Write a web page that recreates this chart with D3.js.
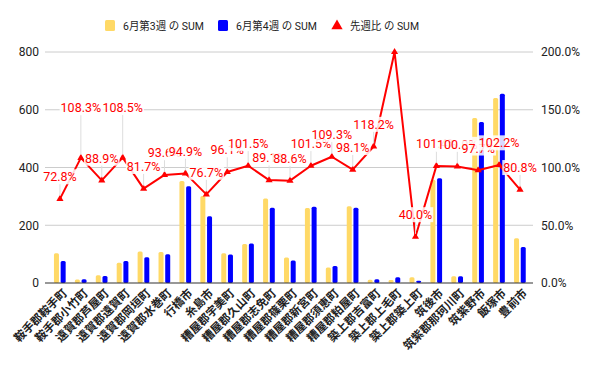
<!DOCTYPE html>
<html>
<head>
<meta charset="utf-8">
<script src="https://cdn.jsdelivr.net/npm/d3@7"></script>
<style>
  body { margin: 0; background: #fff; }
  svg { display: block; }
  text { font-family: Roboto, "Noto Sans CJK JP", sans-serif; }
</style>
</head>
<body>
<div id="chart"></div>
<script>
//////////////////////// data ////////////////////////
const towns = [
  "鞍手郡鞍手町", "鞍手郡小竹町", "遠賀郡芦屋町", "遠賀郡遠賀町", "遠賀郡岡垣町",
  "遠賀郡水巻町", "行橋市", "糸島市", "糟屋郡宇美町", "糟屋郡久山町",
  "糟屋郡志免町", "糟屋郡篠栗町", "糟屋郡新宮町", "糟屋郡須恵町", "糟屋郡粕屋町",
  "築上郡吉富町", "築上郡上毛町", "築上郡築上町", "筑後市", "筑紫郡那珂川町",
  "筑紫野市", "飯塚市", "豊前市"
];
const week3 = [103, 12, 27, 70, 109, 107, 353, 301, 103, 135, 293, 88, 260, 54, 266, 11, 10, 20, 358, 23, 571, 641, 155];
const week4 = [76, 13, 24, 76, 89, 100, 335, 231, 99, 137, 261, 78, 264, 59, 261, 13, 20, 8, 363, 23, 558, 655, 125];
const ratio = [72.8, 108.3, 88.9, 108.5, 81.7, 93.6, 94.9, 76.7, 96.1, 101.5, 89.1, 88.6, 101.5, 109.3, 98.1, 118.2, 200.0, 40.0, 101.4, 100.9, 97.7, 102.2, 80.8];

const leftTicks = [0, 200, 400, 600, 800];
const rightTicks = [0, 0.5, 1, 1.5, 2];
const seriesNames = ["6月第3週 の SUM", "6月第4週 の SUM", "先週比 の SUM"];

//////////////////////// setup ////////////////////////
const W = 601, H = 372;
const COLORS = { w3: "#ffd966", w4: "#0000ff", ratio: "#ff0000", grid: "#cccccc", axis: "#333333", text: "#222222" };
const LEFT = 45, RIGHT = 533, TOP = 52, BOTTOM = 283;
const LIFTED = new Set([1, 3]); // labels pushed further up to clear neighbours

const svg = d3.select("#chart").append("svg").attr("width", W).attr("height", H);

const x = d3.scaleBand().domain(towns).range([49.5, 530.5]);
const yL = d3.scaleLinear().domain([0, 800]).range([BOTTOM, TOP]);
const yR = d3.scaleLinear().domain([0, 2]).range([BOTTOM, TOP]);
const cx = t => x(t) + x.bandwidth() / 2;

//gridlines
svg.append("g").selectAll("line").data(leftTicks.slice(1)).join("line")
  .attr("x1", LEFT).attr("x2", RIGHT)
  .attr("y1", d => yL(d)).attr("y2", d => yL(d))
  .attr("stroke", COLORS.grid).attr("stroke-width", 1);

//left axis
const axL = svg.append("g").attr("transform", `translate(${LEFT},0)`)
  .call(d3.axisLeft(yL).tickValues(leftTicks).tickSize(0).tickPadding(6));
axL.select(".domain").remove();
axL.selectAll("text").attr("font-size", 12).attr("fill", COLORS.text)
  .style("font-family", "Roboto, sans-serif");

//right axis
const axR = svg.append("g").attr("transform", `translate(${RIGHT},0)`)
  .call(d3.axisRight(yR).tickValues(rightTicks).tickSize(0).tickPadding(8).tickFormat(d3.format(".1%")));
axR.select(".domain").remove();
axR.selectAll("text").attr("font-size", 12).attr("fill", COLORS.text)
  .style("font-family", "Roboto, sans-serif");

//bars
const bars = svg.append("g");
bars.selectAll(".b3").data(towns).join("rect").attr("class", "b3")
  .attr("x", (t) => cx(t) - 6).attr("width", 5)
  .attr("y", (t, i) => yL(week3[i])).attr("height", (t, i) => BOTTOM - yL(week3[i]))
  .attr("rx", 1.5).attr("fill", COLORS.w3);
bars.selectAll(".b4").data(towns).join("rect").attr("class", "b4")
  .attr("x", (t) => cx(t) + 0.7).attr("width", 5)
  .attr("y", (t, i) => yL(week4[i])).attr("height", (t, i) => BOTTOM - yL(week4[i]))
  .attr("rx", 1.5).attr("fill", COLORS.w4);

//baseline
svg.append("line").attr("x1", LEFT).attr("x2", RIGHT).attr("y1", BOTTOM).attr("y2", BOTTOM)
  .attr("stroke", COLORS.axis).attr("stroke-width", 1.2);

//x labels
svg.append("g").selectAll("text").data(towns).join("text")
  .attr("transform", t => `translate(${cx(t) + 5},${BOTTOM + 8}) rotate(-45)`)
  .attr("text-anchor", "end").attr("dy", "0.35em")
  .attr("font-size", 11.5).attr("font-weight", "bold").attr("fill", COLORS.text)
  .style("font-family", "'Noto Sans CJK JP', sans-serif")
  .text(t => t);

//ratio line
const line = d3.line().x(t => cx(t)).y((t, i) => yR(ratio[i] / 100));
svg.append("path").datum(towns).attr("d", line)
  .attr("fill", "none").attr("stroke", COLORS.ratio).attr("stroke-width", 2).attr("stroke-linejoin", "round");

const tri = d3.symbol().type(d3.symbolTriangle).size(22);
svg.append("g").selectAll("path").data(towns).join("path")
  .attr("transform", (t, i) => `translate(${cx(t)},${yR(ratio[i] / 100)})`)
  .attr("d", tri).attr("fill", COLORS.ratio);

//data labels
const lab = svg.append("g");
towns.forEach((t, i) => {
  const px = cx(t), py = yR(ratio[i] / 100);
  const ly = py - (LIFTED.has(i) ? 50 : 22);
  if (ly < TOP) return; //no room above the plot
  lab.append("line").attr("x1", px).attr("x2", px).attr("y1", ly + 7).attr("y2", py - 3)
    .attr("stroke", "#dddddd").attr("stroke-width", 1);
  const g = lab.append("g");
  const txt = g.append("text").attr("x", px).attr("y", ly).attr("dy", "0.35em")
    .attr("text-anchor", "middle").attr("font-size", 12.5).attr("fill", COLORS.ratio)
    .text(d3.format(".1f")(ratio[i]) + "%");
  const bb = txt.node().getBBox();
  g.insert("rect", "text").attr("x", bb.x - 1).attr("y", bb.y).attr("width", bb.width + 2).attr("height", bb.height)
    .attr("fill", "#fff").attr("fill-opacity", 0.85);
});

//legend
const leg = svg.append("g").attr("transform", "translate(0,26)");
const legX = [105, 218, 332];
const legW = [81, 81, 69];
leg.append("rect").attr("x", legX[0]).attr("y", -6).attr("width", 10).attr("height", 11).attr("rx", 1.5).attr("fill", COLORS.w3);
leg.append("rect").attr("x", legX[1]).attr("y", -6).attr("width", 10).attr("height", 11).attr("rx", 1.5).attr("fill", COLORS.w4);
leg.append("path").attr("transform", `translate(${legX[2] + 5},0)`)
  .attr("d", d3.symbol().type(d3.symbolTriangle).size(55)).attr("fill", COLORS.ratio);
leg.selectAll(".lt").data(seriesNames).join("text").attr("class", "lt")
  .attr("x", (d, i) => legX[i] + 18).attr("y", 0).attr("dy", "0.35em")
  .attr("font-size", 11.5).attr("fill", COLORS.text)
  .attr("textLength", (d, i) => legW[i]).attr("lengthAdjust", "spacingAndGlyphs")
  .text(d => d);
</script>
</body>
</html>
